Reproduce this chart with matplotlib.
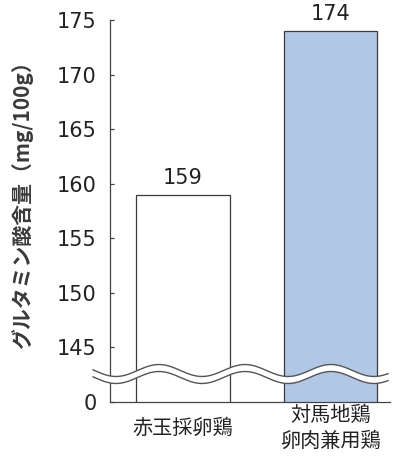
import numpy as np
import matplotlib
matplotlib.use("Agg")
import matplotlib.pyplot as plt

cjk = ['Noto Sans CJK JP', 'DejaVu Sans']

# glutamic acid content per breed (mg/100g)
breeds = ['赤玉採卵鶏', '対馬地鶏\n卵肉兼用鶏']
glutamate = [159, 174]
bar_colors = ['white', '#b0c8e6']

y_ticks = [140, 145, 150, 155, 160, 165, 170, 175]
y_tick_labels = ['0', '145', '150', '155', '160', '165', '170', '175']

fig = plt.figure(figsize=(4.04, 4.62), dpi=100)
W, H = 404, 462
ax = fig.add_axes([110 / W, 60 / H, 280 / W, 382 / H])

x = np.arange(len(breeds))
ax.bar(x, glutamate, width=0.63, bottom=0, color=bar_colors,
       edgecolor='#3a3a3a', linewidth=0.9, zorder=2)

for xi, v in zip(x, glutamate):
    ax.text(xi, v + 0.6, str(v), ha='center', va='bottom',
            fontsize=15, color='#222222')

ax.set_xlim(-0.493, 1.40)
ax.set_ylim(140, 175)
ax.set_yticks(y_ticks)
ax.set_yticklabels(y_tick_labels, fontsize=15, color='#222222')
ax.tick_params(axis='y', direction='in', length=3, width=0.9, pad=9.5,
               color='#444444')

ax.set_xticks(x)
ax.set_xticklabels(breeds, family=cjk, fontsize=14.5, color='#222222',
                   linespacing=1.25)
ax.tick_params(axis='x', length=0, pad=19)
for lab in ax.get_xticklabels():
    lab.set_va('center')

for side in ['top', 'right']:
    ax.spines[side].set_visible(False)
for side in ['left', 'bottom']:
    ax.spines[side].set_color('#444444')
    ax.spines[side].set_linewidth(0.9)

ax.set_ylabel('グルタミン酸含量（mg/100g）', family=cjk, fontsize=15,
              fontweight='bold', color='#3a3a3a')
ax.yaxis.set_label_coords(-0.275, 0.531)

# wavy axis break, drawn in pixel space
px = np.linspace(93, 388, 400)
centre = 374 + 6 * np.cos(2 * np.pi * (px - 116) / 86)
upper = centre - 3.5
lower = centre + 3.5
to_fig = lambda yy: 1 - yy / H
fig.patches.append(plt.Polygon(
    np.column_stack([np.r_[px, px[::-1]] / W,
                     to_fig(np.r_[upper, lower[::-1]])]),
    closed=True, facecolor='white', edgecolor='none',
    transform=fig.transFigure, zorder=5))
for yy in (upper, lower):
    fig.add_artist(plt.Line2D(px / W, to_fig(yy), color='#555555',
                              linewidth=1.0, transform=fig.transFigure,
                              zorder=6))

fig.savefig('out.png', dpi=100)
